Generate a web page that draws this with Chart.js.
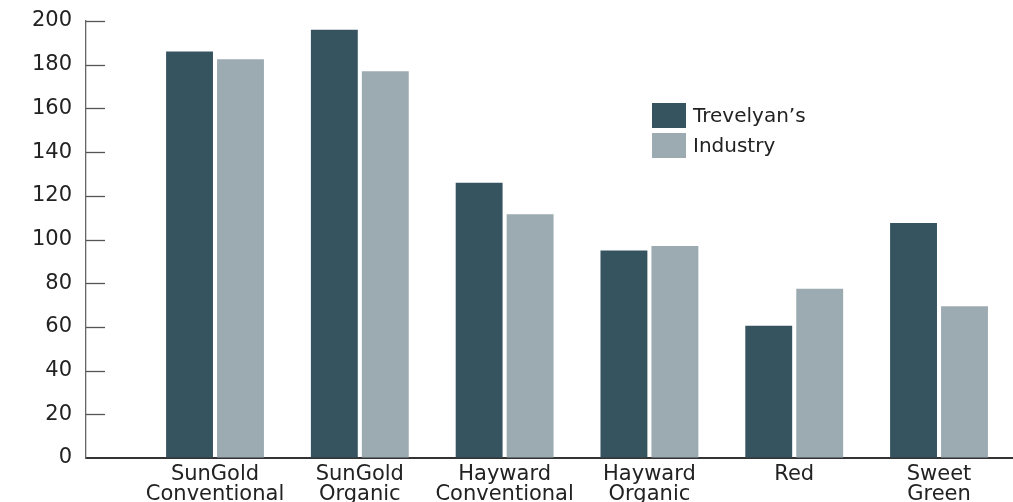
<!DOCTYPE html>
<html>
<head>
<meta charset="utf-8">
<script src="https://cdn.jsdelivr.net/npm/chart.js@4/dist/chart.umd.min.js"></script>
<style>
  html, body { margin: 0; padding: 0; background: #ffffff; }
  #wrap { width: 1013px; height: 502px; }
</style>
</head>
<body>
<div id="wrap"><canvas id="c" width="1013" height="502"></canvas></div>
<script>
// ---- data ----
const categories = [
  ["SunGold", "Conventional"],
  ["SunGold", "Organic"],
  ["Hayward", "Conventional"],
  ["Hayward", "Organic"],
  ["Red"],
  ["Sweet", "Green"]
];
const seriesNames = ["Trevelyan\u2019s", "Industry"];
const trevelyan = [186, 196, 126, 95, 60.5, 107.5];
const industry  = [182.5, 177, 111.5, 97, 77.5, 69.5];
const yTicks = [0, 20, 40, 60, 80, 100, 120, 140, 160, 180, 200];

const FONT = "'DejaVu Sans', 'Liberation Sans', sans-serif";

const innerTicks = {
  id: 'innerTicks',
  afterDraw(chart, args, opts) {
    const y = chart.scales.y;
    const ctx = chart.ctx;
    ctx.save();
    ctx.strokeStyle = opts.color;
    ctx.lineWidth = opts.width;
    y.ticks.forEach(t => {
      if (t.value === 0) return;
      const py = Math.round(y.getPixelForValue(t.value)) + 0.5;
      ctx.beginPath();
      ctx.moveTo(chart.chartArea.left, py);
      ctx.lineTo(chart.chartArea.left + opts.length, py);
      ctx.stroke();
    });
    ctx.restore();
  }
};

const boxLegend = {
  id: 'boxLegend',
  afterDraw(chart, args, opts) {
    const ctx = chart.ctx;
    ctx.save();
    chart.data.datasets.forEach((ds, i) => {
      const top = opts.top + i * opts.spacing;
      ctx.fillStyle = ds.backgroundColor;
      ctx.fillRect(opts.left, top, opts.boxWidth, opts.boxHeight);
      ctx.fillStyle = opts.color;
      ctx.font = opts.font;
      ctx.textAlign = 'left';
      ctx.textBaseline = 'middle';
      ctx.fillText(ds.label, opts.left + opts.boxWidth + opts.gap, top + opts.boxHeight / 2 + 1);
    });
    ctx.restore();
  }
};

new Chart(document.getElementById('c'), {
  type: 'bar',
  data: {
    datasets: [
      {
        label: seriesNames[0],
        data: trevelyan.map((v, i) => ({ x: i, y: v })),
        backgroundColor: '#365360',
        categoryPercentage: 0.704,
        barPercentage: 0.92
      },
      {
        label: seriesNames[1],
        data: industry.map((v, i) => ({ x: i, y: v })),
        backgroundColor: '#9caab1',
        categoryPercentage: 0.704,
        barPercentage: 0.92
      }
    ]
  },
  options: {
    responsive: false,
    animation: false,
    layout: { padding: { top: 21, right: 1, left: 0, bottom: 0 } },
    plugins: {
      legend: { display: false },
      tooltip: { enabled: false },
      innerTicks: { color: '#555555', width: 1.3, length: 19 },
      boxLegend: {
        left: 652, top: 103, spacing: 30, boxWidth: 34, boxHeight: 25, gap: 7,
        color: '#222222', font: "20px " + FONT
      }
    },
    scales: {
      x: {
        type: 'linear',
        offset: false,
        min: -0.891,
        max: 5.504,
        afterFit(scale) { scale.height = 44; scale.paddingLeft = 0; scale.paddingRight = 0; },
        grid: { display: true, drawOnChartArea: false, drawTicks: false },
        border: { display: true, color: '#333333', width: 2 },
        ticks: {
          stepSize: 1,
          includeBounds: false,
          autoSkip: false,
          maxRotation: 0,
          minRotation: 0,
          padding: 6,
          color: '#222222',
          font: { family: FONT, size: 21, lineHeight: 0.97 },
          callback: (v) => Number.isInteger(v) && categories[v] ? categories[v] : ''
        }
      },
      y: {
        min: 0,
        max: 200,
        afterFit(scale) { scale.width = 86; scale.paddingTop = 0; scale.paddingBottom = 0; },
        afterBuildTicks(scale) { scale.ticks = yTicks.map(v => ({ value: v })); },
        grid: { display: true, drawOnChartArea: false, drawTicks: false },
        border: { display: true, color: '#666666', width: 1.3 },
        ticks: {
          padding: 14,
          color: '#222222',
          font: { family: FONT, size: 21 }
        }
      }
    }
  },
  plugins: [innerTicks, boxLegend]
});
</script>
</body>
</html>
